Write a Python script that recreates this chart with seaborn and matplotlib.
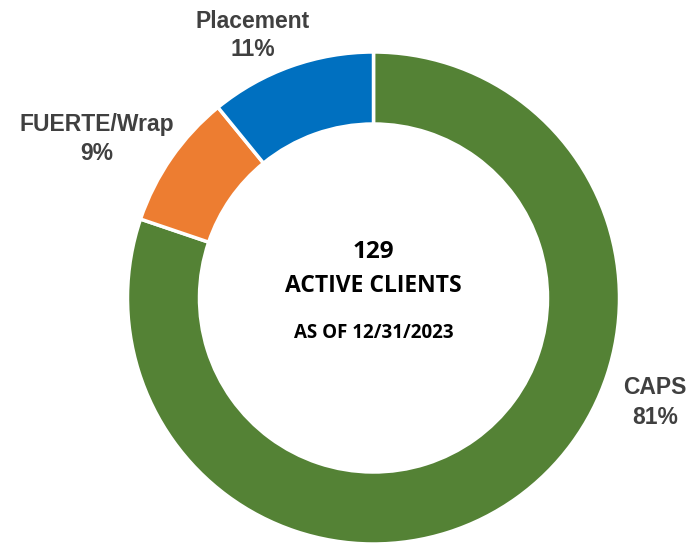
import matplotlib
matplotlib.use("Agg")
import matplotlib.pyplot as plt
import seaborn as sns

# data (percent shares as shown on the chart)
programs = ["CAPS", "FUERTE/Wrap", "Placement"]
shares = [81, 9, 11]
colors = ["#548235", "#ED7D31", "#0070C0"]
total_label = "129"

sns.set_theme(style="white")
plt.rcParams["font.family"] = ["Liberation Sans", "DejaVu Sans"]

fig = plt.figure(figsize=(7, 5.44), dpi=100)
ax = fig.add_axes([0, 0, 1, 1])

H = 544
cx, cy, r = 373.5, H - 298, 246
ax.pie(shares, colors=colors, startangle=90, counterclock=False,
       center=(cx, cy), radius=r, frame=True,
       wedgeprops=dict(width=72, edgecolor="white", linewidth=2.5))
ax.set_xlim(0, 700)
ax.set_ylim(0, H)
ax.set_aspect("equal")
ax.axis("off")

# outer labels: (x, y of name line, y of pct line) in pixels from top
label_pos = {"CAPS": (655, 388, 418), "FUERTE/Wrap": (97, 124, 154), "Placement": (253, 21, 50)}
for name, pct in zip(programs, shares):
    x, y1, y2 = label_pos[name]
    for txt, yy in ((name, y1), (f"{pct}%", y2)):
        ax.text(x, H - yy, txt, ha="center", va="center", fontsize=16.5,
                fontweight="bold", color="#404040")

# center text
cfont = ["Open Sans", "DejaVu Sans"]
ax.text(cx, H - 252, total_label, ha="center", va="center", fontsize=17.5,
        fontweight="bold", color="black", family=cfont)
ax.text(cx, H - 286, "ACTIVE CLIENTS", ha="center", va="center", fontsize=16.5,
        fontweight="bold", color="black", family=cfont)
ax.text(cx, H - 333, "AS OF 12/31/2023", ha="center", va="center", fontsize=13.5,
        fontweight="bold", color="black", family=cfont)

fig.savefig("out.png", dpi=100)
